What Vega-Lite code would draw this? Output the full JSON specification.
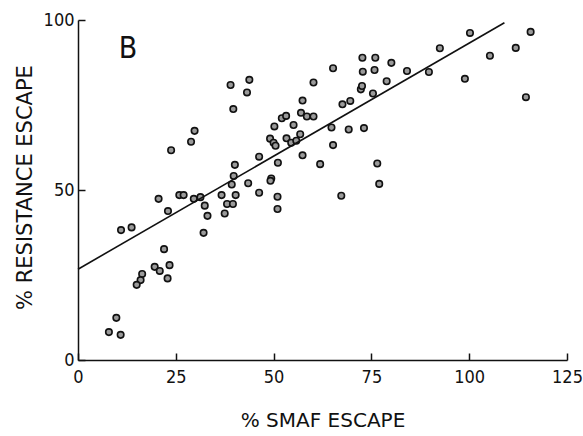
{
  "$schema": "https://vega.github.io/schema/vega-lite/v6.json",
  "autosize": "none",
  "width": 489,
  "height": 340,
  "padding": {"left": 78, "top": 20, "right": 16, "bottom": 76},
  "background": "white",
  "config": {
    "view": {"stroke": null},
    "axis": {
      "grid": false,
      "domainColor": "#111",
      "domainWidth": 1.5,
      "ticks": true,
      "tickColor": "#111",
      "tickWidth": 1.5,
      "labelColor": "#111",
      "titleColor": "#111",
      "labelFont": "DejaVu Sans Condensed",
      "titleFont": "DejaVu Sans",
      "titleFontWeight": "normal"
    }
  },
  "layer": [
    {
      "data": {"values": [
        {"x": 23.8, "y": 61.7}, {"x": 28.9, "y": 64.2}, {"x": 29.8, "y": 67.4}, {"x": 39.0, "y": 80.9},
        {"x": 43.8, "y": 82.4}, {"x": 43.2, "y": 78.7}, {"x": 39.7, "y": 73.8}, {"x": 46.3, "y": 59.8},
        {"x": 40.1, "y": 57.4}, {"x": 39.8, "y": 54.1}, {"x": 39.3, "y": 51.6}, {"x": 43.5, "y": 52.0},
        {"x": 49.4, "y": 53.4}, {"x": 49.2, "y": 52.7}, {"x": 51.1, "y": 58.0}, {"x": 57.4, "y": 60.2},
        {"x": 50.2, "y": 68.7}, {"x": 52.1, "y": 71.1}, {"x": 53.2, "y": 71.8}, {"x": 49.1, "y": 65.1},
        {"x": 50.0, "y": 63.9}, {"x": 50.5, "y": 63.0}, {"x": 53.3, "y": 65.2}, {"x": 54.5, "y": 63.9},
        {"x": 55.8, "y": 64.5}, {"x": 56.8, "y": 66.4}, {"x": 55.1, "y": 69.1}, {"x": 57.4, "y": 76.3},
        {"x": 57.0, "y": 72.7}, {"x": 58.5, "y": 71.6}, {"x": 60.2, "y": 71.6}, {"x": 60.2, "y": 81.6},
        {"x": 61.9, "y": 57.6}, {"x": 65.2, "y": 85.8}, {"x": 64.8, "y": 68.4}, {"x": 65.2, "y": 63.2},
        {"x": 69.2, "y": 67.8}, {"x": 73.1, "y": 68.2}, {"x": 67.6, "y": 75.2}, {"x": 69.6, "y": 76.2},
        {"x": 72.3, "y": 79.6}, {"x": 72.6, "y": 80.6}, {"x": 75.4, "y": 78.4}, {"x": 72.7, "y": 88.9},
        {"x": 76.0, "y": 88.9}, {"x": 72.8, "y": 84.8}, {"x": 75.8, "y": 85.3}, {"x": 80.1, "y": 87.4},
        {"x": 78.9, "y": 82.0}, {"x": 84.1, "y": 85.0}, {"x": 89.7, "y": 84.7}, {"x": 92.5, "y": 91.7},
        {"x": 100.2, "y": 96.2}, {"x": 105.3, "y": 89.5}, {"x": 98.9, "y": 82.7}, {"x": 111.9, "y": 91.8},
        {"x": 115.7, "y": 96.5}, {"x": 114.5, "y": 77.3}, {"x": 76.5, "y": 57.8}, {"x": 77.0, "y": 51.8},
        {"x": 11.0, "y": 38.2}, {"x": 13.7, "y": 39.0}, {"x": 20.6, "y": 47.4}, {"x": 23.0, "y": 43.8},
        {"x": 25.9, "y": 48.5}, {"x": 27.0, "y": 48.5}, {"x": 29.6, "y": 47.4}, {"x": 31.3, "y": 47.9},
        {"x": 32.4, "y": 45.4}, {"x": 33.1, "y": 42.4}, {"x": 32.1, "y": 37.4}, {"x": 36.7, "y": 48.5},
        {"x": 40.3, "y": 48.5}, {"x": 37.5, "y": 43.1}, {"x": 38.1, "y": 45.9}, {"x": 39.6, "y": 45.9},
        {"x": 46.3, "y": 49.2}, {"x": 51.0, "y": 48.0}, {"x": 51.0, "y": 44.4}, {"x": 22.0, "y": 32.6},
        {"x": 19.6, "y": 27.4}, {"x": 20.9, "y": 26.2}, {"x": 23.4, "y": 27.9}, {"x": 22.9, "y": 24.0},
        {"x": 16.4, "y": 25.3}, {"x": 16.0, "y": 23.5}, {"x": 15.0, "y": 22.1}, {"x": 9.8, "y": 12.4},
        {"x": 7.9, "y": 8.2}, {"x": 10.9, "y": 7.4}, {"x": 67.3, "y": 48.3}
      ]},
      "mark": {"type": "point", "shape": "circle", "filled": true, "fill": "#9a9a9a", "stroke": "#111", "strokeWidth": 1.6, "size": 42, "opacity": 1},
      "encoding": {
        "x": {
          "field": "x", "type": "quantitative",
          "scale": {"domain": [0, 125], "nice": false, "zero": false},
          "axis": {"values": [0, 25, 50, 75, 100, 125], "title": "% SMAF ESCAPE", "titleFontSize": 20, "labelFontSize": 18, "tickSize": -7, "labelPadding": 15, "titleBaseline": "alphabetic", "titleY": 66, "labelFlush": false}
        },
        "y": {
          "field": "y", "type": "quantitative",
          "scale": {"domain": [0, 100], "nice": false, "zero": false},
          "axis": {"values": [0, 50, 100], "title": "% RESISTANCE ESCAPE", "titleFontSize": 21, "labelFontSize": 18, "tickSize": -7, "labelPadding": 11, "titleAngle": -90, "titleX": -53, "titleY": 167, "titleAlign": "center", "titleBaseline": "middle"}
        }
      }
    },
    {
      "data": {"values": [{"x": 0, "y": 26.7}, {"x": 109, "y": 99.2}]},
      "mark": {"type": "line", "color": "#111", "strokeWidth": 1.6},
      "encoding": {
        "x": {"field": "x", "type": "quantitative"},
        "y": {"field": "y", "type": "quantitative"}
      }
    },
    {
      "data": {"values": [{"x": 12.8, "y": 91.5, "label": "B"}]},
      "mark": {"type": "text", "font": "DejaVu Sans Condensed", "fontSize": 30, "fontWeight": 300, "color": "#111", "align": "center", "baseline": "middle"},
      "encoding": {
        "x": {"field": "x", "type": "quantitative"},
        "y": {"field": "y", "type": "quantitative"},
        "text": {"field": "label"}
      }
    }
  ]
}
